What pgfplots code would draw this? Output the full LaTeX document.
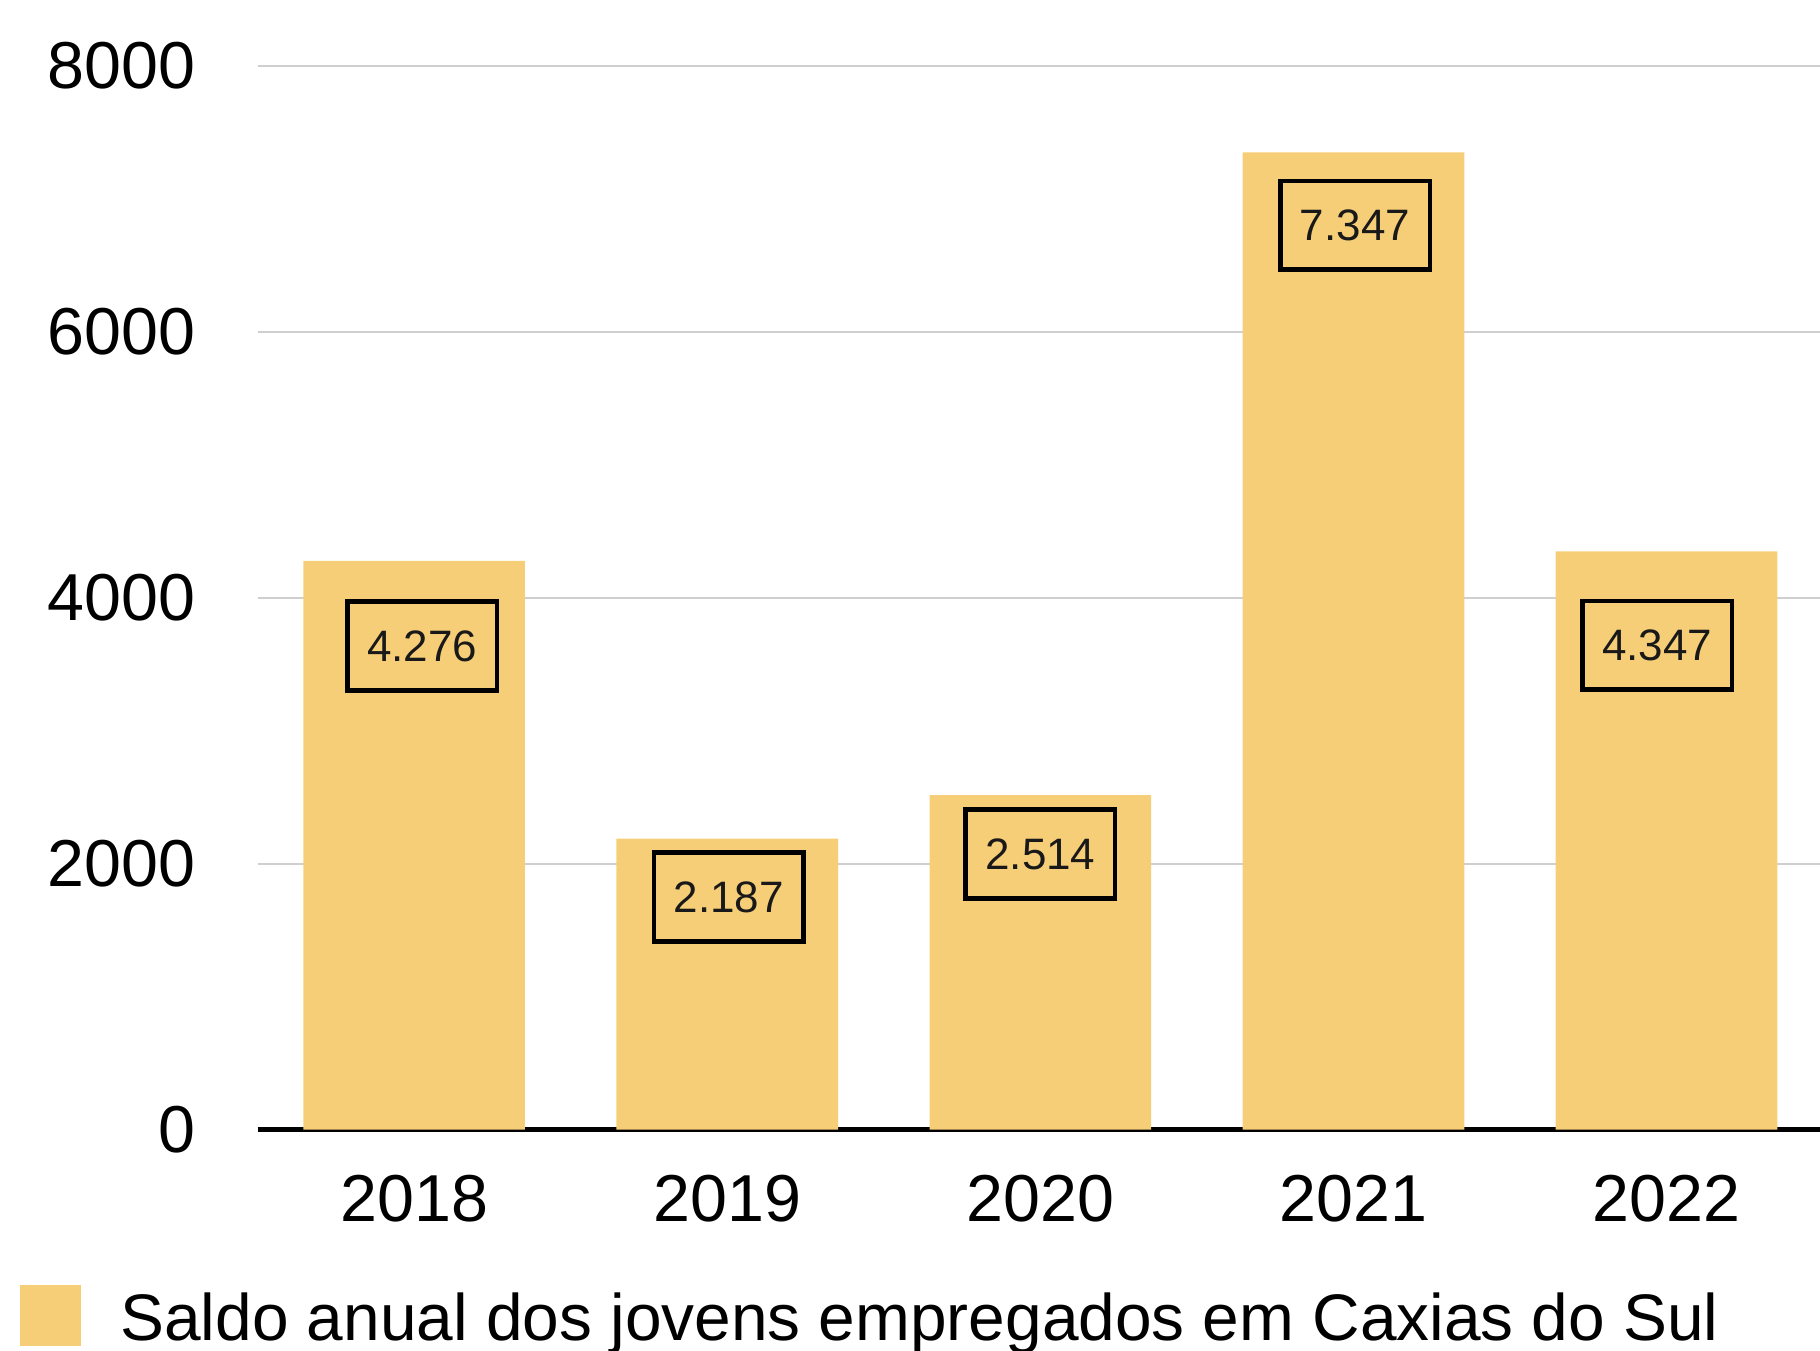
\documentclass[border=0pt]{standalone}
\usepackage{fontspec}
\setmainfont{Liberation Sans}
\usepackage{pgfplots}
\pgfplotsset{compat=1.18}
\definecolor{barcol}{HTML}{F7CE78}
\definecolor{gridcol}{HTML}{CFCFCF}
\tikzset{lbl/.style={draw=black, line width=1.15pt, minimum width=37.4pt, minimum height=22.2pt,
    inner sep=0pt, font=\fontsize{11}{13}\selectfont, text=black!90}}
\begin{document}
\begin{tikzpicture}
\useasboundingbox (-64.4pt,-55.1pt) rectangle (390.6pt,282.4pt);
\begin{axis}[
  at={(0pt,0pt)}, anchor=south west,
  scale only axis, width=390.6pt, height=266pt,
  xmin=-0.5, xmax=4.49, ymin=0, ymax=8000,
  xtick={0,1,2,3,4}, xticklabels={2018,2019,2020,2021,2022},
  ytick={0,2000,4000,6000,8000}, yticklabels={0,2000,4000,6000,8000},
  major tick length=0pt,
  ymajorgrids, grid style={gridcol, line width=0.5pt},
  separate axis lines,
  axis x line*=bottom, axis y line*=left,
  x axis line style={-, black, line width=1.1pt},
  y axis line style={draw=none},
  tick label style={font=\fontsize{16.6}{20}\selectfont},
  yticklabel style={anchor=east, inner sep=0pt, xshift=-15.3pt},
  xticklabel style={anchor=north, inner sep=0pt, yshift=-11.2pt},
  legend style={at={(rel axis cs:-0.1523,-0.1459)}, anchor=north west,
    draw=none, fill=none, inner sep=0pt, outer sep=0pt,
    font=\fontsize{16.45}{20}\selectfont, nodes={inner sep=0pt, yshift=4.35pt},
    /tikz/every odd column/.style={column sep=9.9pt}},
  legend cell align=left,
  legend image code/.code={\fill[barcol] (0pt,-2.3pt) rectangle (15.3pt,13pt);},
]
\addplot[ybar, bar width=0.708, fill=barcol, draw=none]
  coordinates {(0,4276) (1,2187) (2,2514) (3,7347) (4,4347)};
\addlegendentry{Saldo anual dos jovens empregados em Caxias do Sul}
\node[lbl] at (axis cs:0.026,3635) {4.276};
\node[lbl] at (axis cs:1.005,1750) {2.187};
\node[lbl] at (axis cs:2,2071) {2.514};
\node[lbl] at (axis cs:3.005,6800) {7.347};
\node[lbl] at (axis cs:3.97,3641) {4.347};
\end{axis}
\end{tikzpicture}
\end{document}
